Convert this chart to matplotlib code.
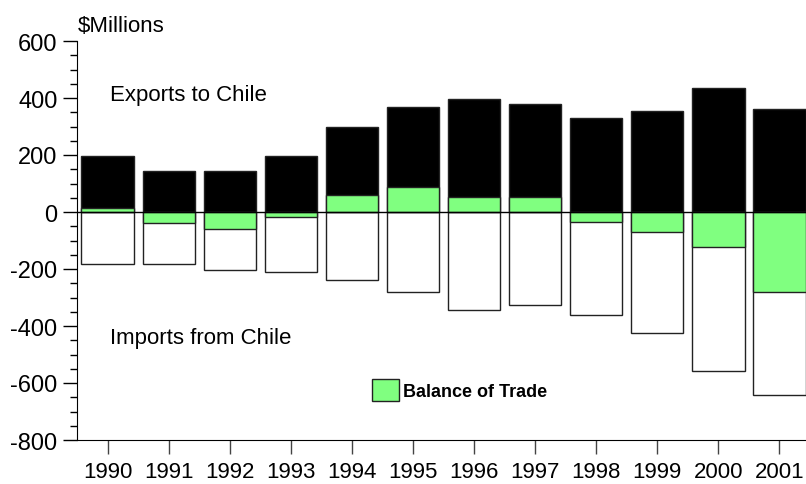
import numpy as np
import matplotlib.pyplot as plt
from matplotlib.patches import Patch
from matplotlib.ticker import MultipleLocator

plt.rcParams['font.family'] = ['Liberation Sans', 'DejaVu Sans']
plt.rcParams['axes.unicode_minus'] = False

years = [1990, 1991, 1992, 1993, 1994, 1995, 1996, 1997, 1998, 1999, 2000, 2001]
exports = [195, 145, 145, 195, 300, 370, 397, 380, 329, 353, 434, 361]
imports = [-181, -184, -203, -211, -240, -281, -344, -327, -363, -423, -558, -641]
balance = [e + i for e, i in zip(exports, imports)]   # exports minus imports

fig = plt.figure(figsize=(8.06, 4.85), dpi=100)
ax = fig.add_axes([77/806, 1 - 441/485, (806 - 77)/806, (441 - 42)/485])

w = 0.86
ec = '#222222'
ax.bar(years, exports, w, color='black', edgecolor=ec, linewidth=1)
ax.bar(years, imports, w, color='white', edgecolor=ec, linewidth=1)
ax.bar(years, balance, w, color='#80ff80', edgecolor=ec, linewidth=1)
ax.axhline(0, color='black', linewidth=1)

ax.set_xlim(1989.497, 2001.437)
ax.set_ylim(-800, 600)
ax.set_xticks(years)
ax.set_xticklabels([str(y) for y in years], fontsize=16)
ax.yaxis.set_major_locator(MultipleLocator(200))
ax.yaxis.set_minor_locator(MultipleLocator(50))
ax.tick_params(axis='y', which='major', length=10, width=1, labelsize=17, pad=4)
ax.tick_params(axis='y', which='minor', length=5, width=1)
ax.tick_params(axis='x', which='major', length=10, width=1, color='#444444', pad=5)
ax.spines['top'].set_visible(False)
ax.spines['right'].set_visible(False)

fig.text(78/806, 1 - 26/485, '$Millions', fontsize=16, va='center', ha='left')
fig.text(110/806, 1 - 96/485, 'Exports to Chile', fontsize=16, va='center', ha='left')
fig.text(110/806, 1 - 339/485, 'Imports from Chile', fontsize=16, va='center', ha='left')

ax.legend(handles=[Patch(facecolor='#80ff80', edgecolor=ec, label='Balance of Trade')],
          loc='center left', bbox_to_anchor=(372/806, 1 - 391/485),
          bbox_transform=fig.transFigure, frameon=False,
          prop={'weight': 'bold', 'size': 13}, handlelength=1.5, handleheight=1.5,
          handletextpad=0.2, borderpad=0, borderaxespad=0)

plt.savefig('out.png', dpi=100)
